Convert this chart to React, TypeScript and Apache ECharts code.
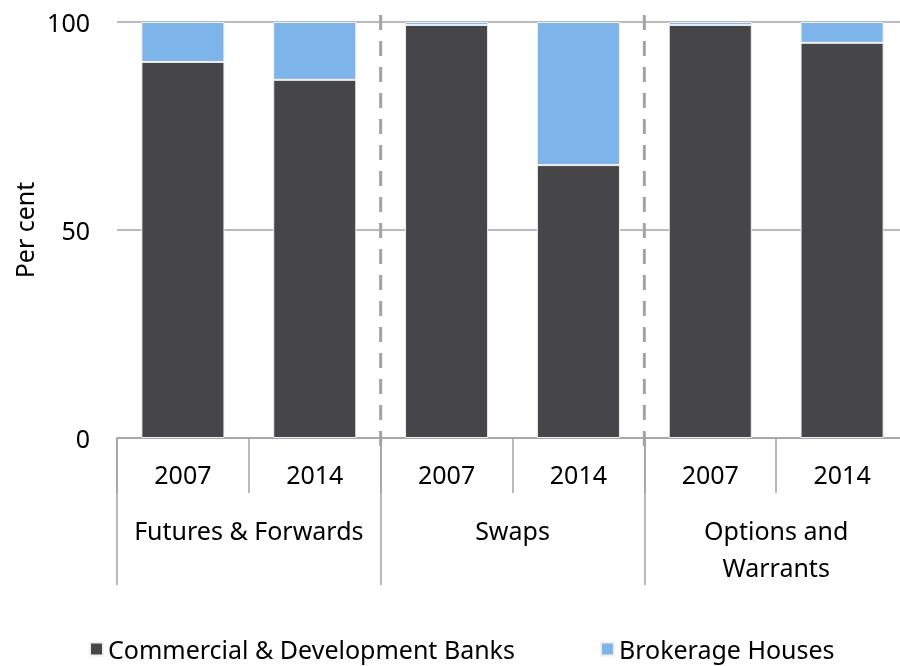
import React, { useEffect, useRef } from "react";
import * as echarts from "echarts";

const years = ["2007", "2014", "2007", "2014", "2007", "2014"];
const groups = ["Futures & Forwards", "Swaps", "Options and\nWarrants"];
const banks = [90.4, 86.1, 99.3, 65.6, 99.3, 95.0];
const brokerage = [9.6, 13.9, 0.7, 34.4, 0.7, 5.0];
const seriesNames = ["Commercial & Development Banks", "Brokerage Houses"];
const yTicks = [0, 50, 100];
const separatorsAfter = [1, 3]; // dashed separators after these category indices

const FONT = "Noto Sans";
const FS = 25;
const GREY = "#a3a3a3";

export default function App() {
  const ref = useRef<HTMLDivElement>(null);
  useEffect(() => {
    if (!ref.current) return;
    const chart = echarts.init(ref.current, null, { renderer: "svg" });
    chart.setOption({
      animation: false,
      textStyle: { fontFamily: FONT, color: "#000" },
      grid: { left: 117, right: 12, top: 22, bottom: 228, containLabel: false },
      legend: {
        left: 89,
        top: 635,
        padding: 0,
        itemWidth: 13,
        itemHeight: 13,
        itemGap: 85,
        icon: "rect",
        textStyle: { fontFamily: FONT, fontSize: FS, color: "#000", lineHeight: 28 },
        data: seriesNames,
      },
      xAxis: [
        {
          type: "category",
          data: years,
          position: "bottom",
          axisLine: { show: true, lineStyle: { color: GREY, width: 1.5 } },
          axisTick: { show: true, interval: 0, length: 55, lineStyle: { color: GREY, width: 1.5 } },
          axisLabel: { interval: 0, fontSize: FS, color: "#000", margin: 23, fontFamily: FONT },
        },
        {
          type: "category",
          data: groups,
          position: "bottom",
          axisLine: { show: false },
          axisTick: { show: true, interval: 0, length: 147, lineStyle: { color: GREY, width: 1.5 } },
          axisLabel: { interval: 0, fontSize: FS, color: "#000", margin: 73, lineHeight: 37, fontFamily: FONT },
        },
      ],
      yAxis: {
        type: "value",
        min: 0,
        max: 100,
        interval: 50,
        name: "Per cent",
        nameLocation: "middle",
        nameGap: 76,
        nameTextStyle: { fontSize: FS, color: "#000", fontFamily: FONT },
        axisLine: { show: false },
        axisTick: { show: false },
        axisLabel: {
          fontSize: FS,
          color: "#000",
          margin: 27,
          fontFamily: FONT,
          formatter: (v: number) => (yTicks.includes(v) ? String(v) : ""),
        },
        splitLine: { show: true, lineStyle: { color: GREY, width: 1.5 } },
      },
      series: [
        {
          name: seriesNames[0],
          type: "bar",
          stack: "total",
          data: banks,
          barWidth: "63%",
          itemStyle: { color: "#46454a", borderColor: "#f0f0f0", borderWidth: 1 },
        },
        {
          name: seriesNames[1],
          type: "bar",
          stack: "total",
          data: brokerage,
          barWidth: "63%",
          itemStyle: { color: "#7db4ea", borderColor: "#f0f0f0", borderWidth: 1 },
        },
      ],
    });

    const yTop = chart.convertToPixel({ yAxisIndex: 0 }, 100) as number;
    const yBottom = chart.convertToPixel({ yAxisIndex: 0 }, 0) as number;
    const lines = separatorsAfter.map((i) => {
      const a = chart.convertToPixel({ xAxisIndex: 0 }, i) as number;
      const b = chart.convertToPixel({ xAxisIndex: 0 }, i + 1) as number;
      const x = (a + b) / 2;
      return {
        type: "line",
        shape: { x1: x, y1: yTop - 7, x2: x, y2: yBottom + 9 },
        style: { stroke: GREY, lineWidth: 3, lineDash: [15, 11] },
        z: 10,
      };
    });
    chart.setOption({ graphic: lines });

    return () => chart.dispose();
  }, []);
  return (
    <div
      ref={ref}
      style={{ position: "fixed", left: 0, top: 0, width: 920, height: 666 }}
    />
  );
}
